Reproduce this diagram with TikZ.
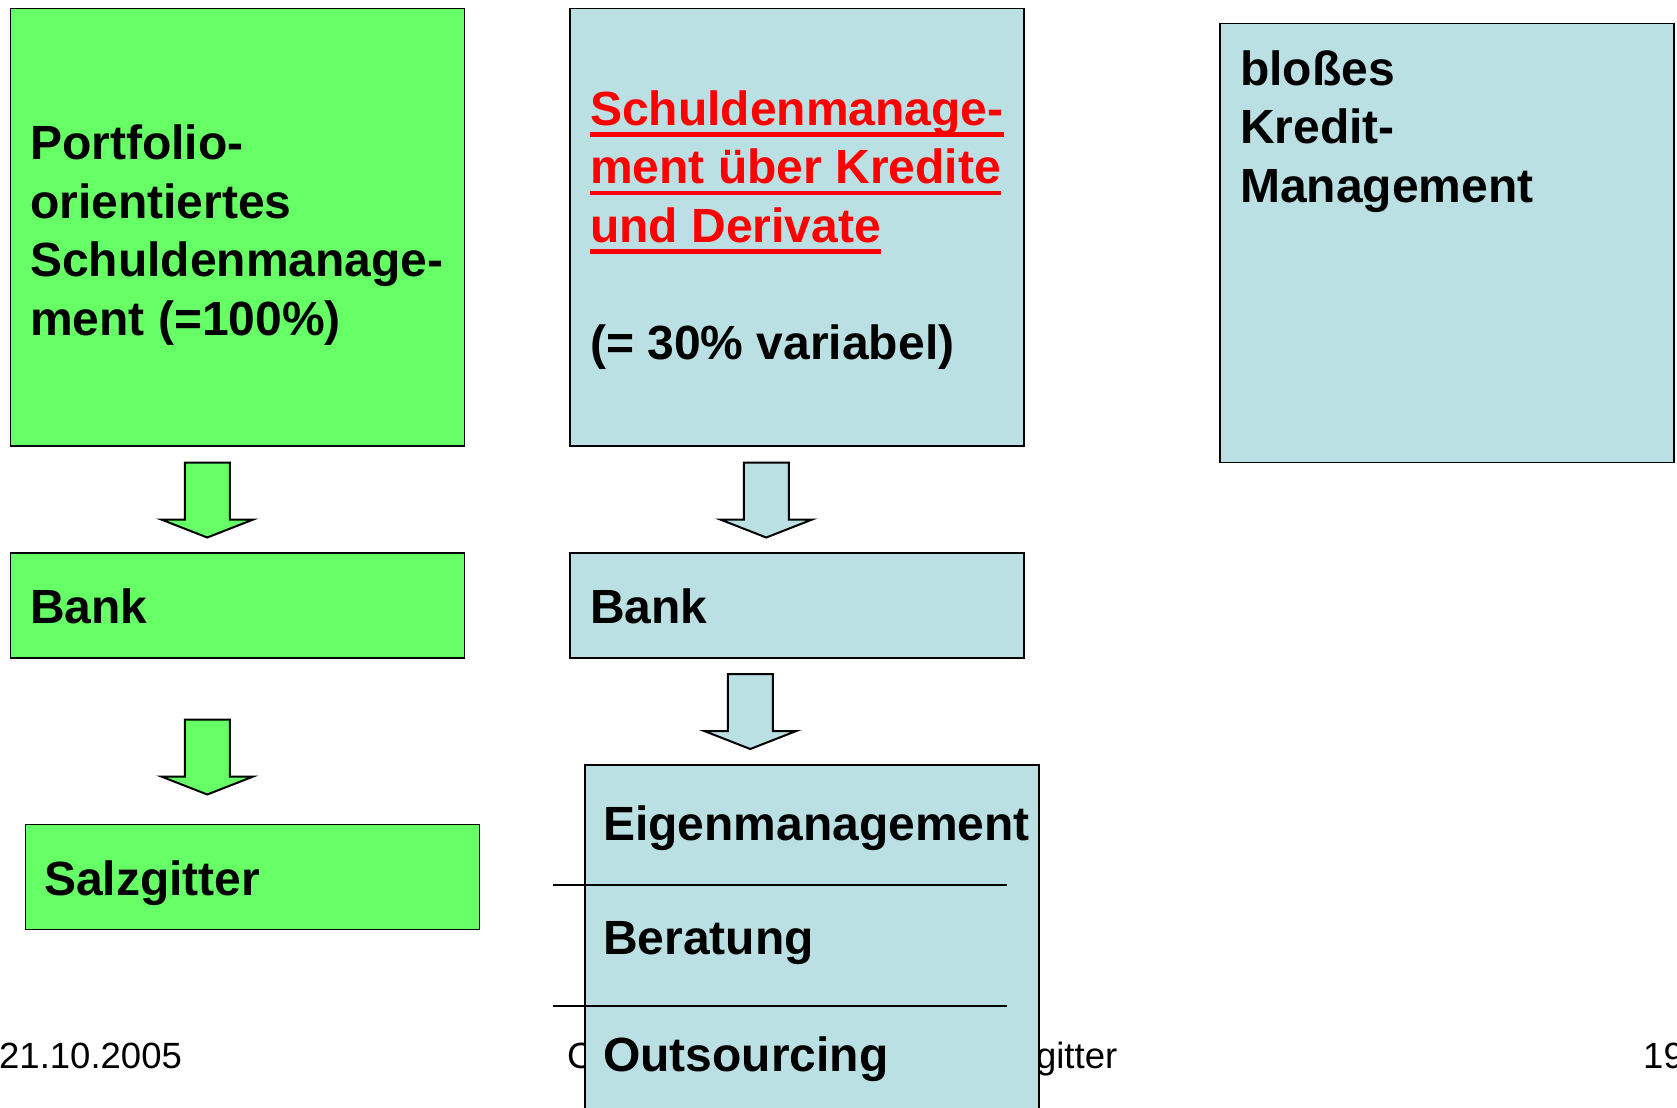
\documentclass[tikz,border=0pt]{standalone}
\usepackage{fontspec}
\setmainfont{Liberation Sans}
\usepackage{color}
\usetikzlibrary{calc}
\definecolor{mygreen}{RGB}{102,255,102}
\definecolor{mylightblue}{RGB}{187,224,227}
\definecolor{myred}{RGB}{255,0,0}
\newcommand{\widthbox}{454bp}
\newcommand{\heightbank}{105bp}
\newcommand{\redline}[1]{\textcolor{myred}{\setbox0\hbox{#1}\rlap{\rule[-11.5bp]{\wd0}{4.4bp}}\box0}}
\newcommand{\blockarrow}[2]{%
    \draw[downarrow, fill=#1] #2 ++(-22.5,0) -- ++(45,0) -- ++(0,57) -- ++(23.5,0)
        -- ++(-46,18) -- ++(-46,-18) -- ++(23.5,0) -- cycle;
}
\tikzset{
    common/.style={anchor=north west, draw, rectangle, line width=1.5bp, inner sep=0pt, minimum width=\widthbox},
    greenbox/.style={common, fill=mygreen},
    bluebox/.style={common, fill=mylightblue},
    boxtext/.style={anchor=base west, inner sep=0pt, align=left, font=\bfseries\fontsize{48bp}{58.5bp}\selectfont},
    footer/.style={anchor=base west, inner sep=0pt, font=\fontsize{36.5bp}{43bp}\selectfont},
    downarrow/.style={draw, line width=2bp, line join=miter},
    divider/.style={line width=2bp}
}
\begin{document}
\begin{tikzpicture}[x=1bp, y=-1bp]
    \useasboundingbox (0,0) rectangle (1677,1107);
    \clip (0,0) rectangle (1677,1107);

    % footer (partly hidden by the boxes)
    \node[footer] (date) at (-1,1068) {21.10.2005};
    \node[footer] (title) at (567,1068) {\hbox to 550bp{C\hfill gitter}};
    \node[footer] (page) at (1643,1068) {19};

    % boxes
    \node[greenbox, minimum height=437.5bp] (portfolio) at (9.5,7.5) {};
    \node[bluebox, minimum height=437.5bp] (kredite) at (569,7.5) {};
    \node[bluebox, minimum height=439bp] (kreditmgmt) at (1219,22.5) {};
    \node[greenbox, minimum height=\heightbank] (bank1) at (9.5,552) {};
    \node[bluebox, minimum height=\heightbank] (bank2) at (569,552) {};
    \node[greenbox, minimum height=\heightbank] (salzgitter) at (24.5,823.5) {};
    \node[bluebox, minimum height=360bp] (optionen) at (584,764) {};

    \draw[divider] (553,884.5) -- (1007,884.5);
    \draw[divider] (553,1005.5) -- (1007,1005.5);

    % arrows
    \blockarrow{mygreen}{($(portfolio.south)+(-30,16)$)}
    \blockarrow{mygreen}{($(bank1.south)+(-30,61)$)}
    \blockarrow{mylightblue}{($(kredite.south)+(-30.5,16)$)}
    \blockarrow{mylightblue}{($(bank2.south)+(-46.5,15.5)$)}

    % texts (multi-line nodes sit on their last baseline)
    \node[boxtext] (portfoliotext) at (30,335) {Portfolio-\\orientiertes\\Schuldenmanage-\\ment (=100\%)};
    \node[boxtext] (kredittext) at (590,359) {\redline{Schuldenmanage-}\\\redline{ment über Kredite}\\\redline{und Derivate}\\~\\(= 30\% variabel)};
    \node[boxtext] (kreditmgmttext) at (1240,202) {bloßes\\Kredit-\\Management};
    \node[boxtext] (bank1text) at (30,623) {Bank};
    \node[boxtext] (bank2text) at (590,623) {Bank};
    \node[boxtext] (salzgittertext) at (44,895) {Salzgitter};
    \node[boxtext] (eigen) at (603,840) {Eigenmanagement};
    \node[boxtext] (beratung) at (603,954) {Beratung};
    \node[boxtext] (outsourcing) at (603,1071) {Outsourcing};
\end{tikzpicture}
\end{document}
